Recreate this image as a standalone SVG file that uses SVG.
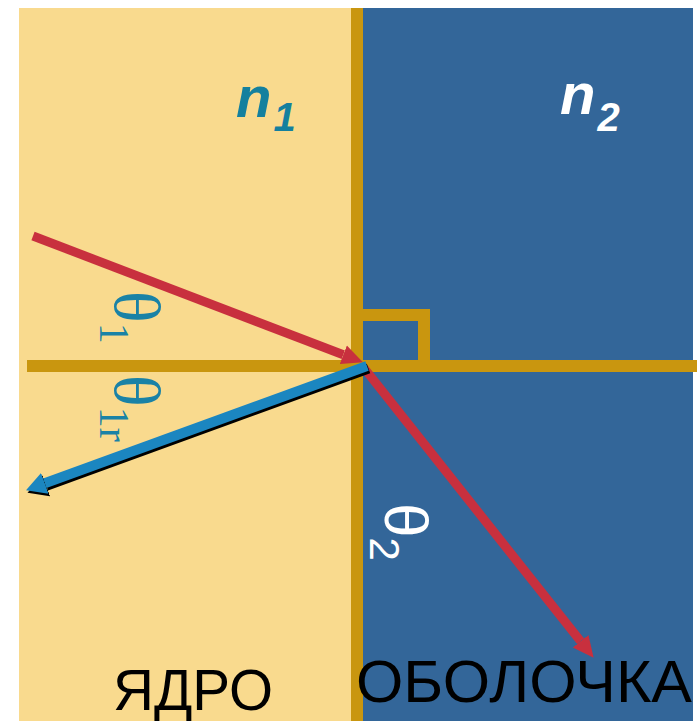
<svg xmlns="http://www.w3.org/2000/svg" width="697" height="721" viewBox="0 0 697 721">
  <style>
    .gold { stroke: #C9960F; stroke-width: 12; fill: none; }
    .red { stroke: #C8303E; stroke-width: 9; fill: none; }
    .blue { stroke: #1B86C0; stroke-width: 10; fill: none; }
    .shadow { stroke: #000000; stroke-width: 10; fill: none; }
    .nlab { font-family: "Liberation Sans", Arial, sans-serif; font-weight: bold; font-style: italic; }
    .theta1 { font-family: "Liberation Serif", "Times New Roman", serif; fill: #1A82A6; }
    .theta2 { font-family: "Liberation Sans", Arial, sans-serif; fill: #FFFFFF; }
    .big { font-family: "Liberation Sans", Arial, sans-serif; fill: #000000; }
  </style>
  <defs>
    <marker id="headRed" viewBox="0 -11 22 22" refX="0" refY="0" markerWidth="22" markerHeight="22" markerUnits="userSpaceOnUse" orient="auto">
      <path d="M0,-10 L21,0 L0,10 z" fill="#C8303E"/>
    </marker>
    <marker id="headBlue" viewBox="0 -12 22 24" refX="0" refY="0" markerWidth="22" markerHeight="24" markerUnits="userSpaceOnUse" orient="auto">
      <path d="M0,-11 L20,0 L0,11 z" fill="#1B86C0"/>
    </marker>
    <marker id="headBlack" viewBox="0 -12 22 24" refX="0" refY="0" markerWidth="22" markerHeight="24" markerUnits="userSpaceOnUse" orient="auto">
      <path d="M0,-11 L20,0 L0,11 z" fill="#000000"/>
    </marker>
  </defs>

  <rect x="0" y="0" width="697" height="721" fill="#FFFFFF"/>

  <g id="core">
    <rect x="19" y="8" width="338" height="713" fill="#F9DA8E"/>
  </g>
  <g id="cladding">
    <rect x="357" y="8" width="336" height="713" fill="#336699"/>
  </g>

  <g id="axes">
    <line class="gold" x1="357" y1="8" x2="357" y2="721"/>
    <line class="gold" x1="27" y1="366" x2="697" y2="366"/>
    <path class="gold" d="M351,315 H424 V366"/>
  </g>

  <g id="connectors">
    <line class="red" x1="33" y1="236" x2="343.3" y2="354.8" marker-end="url(#headRed)"/>
    <line class="red" x1="364" y1="368" x2="580.6" y2="641.3" marker-end="url(#headRed)"/>
    <g transform="translate(1.5,2.5)">
      <line class="shadow" x1="367" y1="366" x2="44.8" y2="483.3" marker-end="url(#headBlack)"/>
    </g>
    <line class="blue" x1="367" y1="366" x2="44.8" y2="483.3" marker-end="url(#headBlue)"/>
  </g>

  <g id="label-n1">
    <text class="nlab" x="236" y="117" font-size="58" fill="#14809E">n<tspan dx="2" dy="14" font-size="40">1</tspan></text>
  </g>
  <g id="label-n2">
    <text class="nlab" x="560" y="114" font-size="58" fill="#FFFFFF">n<tspan dx="2" dy="17" font-size="40">2</tspan></text>
  </g>

  <g id="label-theta1">
    <text class="theta1" transform="translate(115,291) rotate(90)" font-size="66">θ<tspan dy="15" font-size="42">1</tspan></text>
  </g>
  <g id="label-theta1r">
    <text class="theta1" transform="translate(115,375) rotate(90)" font-size="66">θ<tspan dy="15" font-size="42">1r</tspan></text>
  </g>
  <g id="label-theta2">
    <text class="theta2" transform="translate(385,503) rotate(90)" font-size="62">θ<tspan dy="15" font-size="42">2</tspan></text>
  </g>

  <g id="label-core">
    <text class="big" x="113" y="710" font-size="57" textLength="160" lengthAdjust="spacingAndGlyphs">ЯДРО</text>
  </g>
  <g id="label-cladding">
    <text class="big" x="356" y="702" font-size="59" textLength="336" lengthAdjust="spacingAndGlyphs">ОБОЛОЧКА</text>
  </g>
</svg>
